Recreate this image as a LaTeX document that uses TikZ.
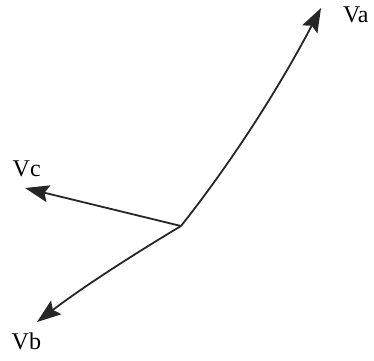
\documentclass[tikz,border=0pt]{standalone}
\usepackage{fontspec}
\setmainfont{Liberation Serif}
\usepackage{tikz}
\usepackage{xcolor}
\usetikzlibrary{arrows.meta,positioning}
\definecolor{phasor}{HTML}{262626}
\tikzset{
  vec/.style={-{Stealth[length=24pt,width=17pt,inset=4pt]}, line width=1.8pt, draw=phasor},
  lbl/.style={font=\fontsize{24}{27}\selectfont, text=black, inner sep=0pt, anchor=base west},
}

\begin{document}
\begin{tikzpicture}[x=1pt, y=-1pt]
\useasboundingbox (0,0) rectangle (374,360);

% ---- phasor ends ---------------------------------------------------
\coordinate (o) at (181,226);
\coordinate (a) at (321,8);
\coordinate (b) at (37,322);
\coordinate (c) at (25,188);

% ---- labels --------------------------------------------------------
\node[lbl] (va) at (343,22)    {Va};
\node[lbl] (vc) at (12.5,176.5) {Vc};
\node[lbl] (vb) at (11.5,349)  {Vb};

% ---- vectors -------------------------------------------------------
\draw[vec] (o) .. controls (234,159) and (280,86) .. (a);
\draw[vec] (o) .. controls (131,256) and (83,287) .. (b);
\draw[vec] (o) -- (c);
\end{tikzpicture}
\end{document}
